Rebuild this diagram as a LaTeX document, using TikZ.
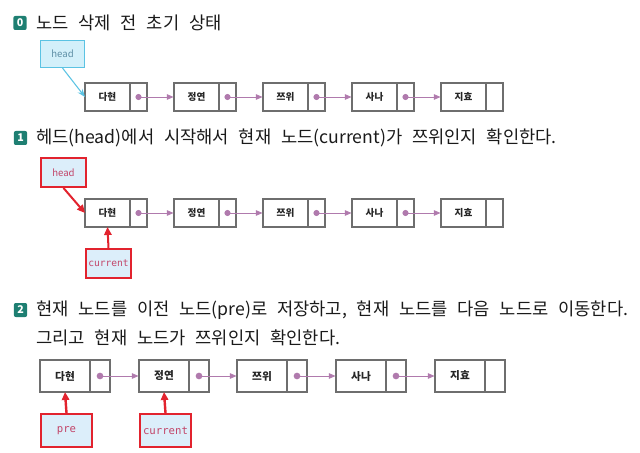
\documentclass[tikz,border=0pt]{standalone}
\usepackage{fontspec}
\setmainfont{Noto Sans CJK KR}
\newfontfamily\monof{DejaVu Sans Mono}
\usetikzlibrary{arrows.meta}
\definecolor{teal1}{HTML}{1E7F72}
\definecolor{boxgray}{HTML}{6E6E6E}
\definecolor{linkc}{HTML}{B07AAD}
\definecolor{cyanb}{HTML}{5BC3E3}
\definecolor{cyanf}{HTML}{D3F0FA}
\definecolor{redb}{HTML}{E2232E}
\definecolor{lightf}{HTML}{DCEEFA}
\definecolor{pinkt}{HTML}{C24468}
\definecolor{headt}{HTML}{5E8FA6}
\definecolor{titlec}{HTML}{1A1A1A}
\newcommand\widesp{\spaceskip=\dimexpr\fontdimen2\font+4.35pt\relax}
\tikzset{
  badge/.style={fill=teal1, rounded corners=1.5pt, text=white, font=\bfseries\fontsize{8}{8}\selectfont, minimum width=10pt, minimum height=10.5pt, inner sep=0pt},
  titletext/.style={anchor=west, inner sep=0pt, text=titlec, font=\fontsize{13.25}{15}\selectfont\widesp},
  cell/.style={draw=boxgray, line width=1.3pt, fill=white, inner sep=0pt, outer sep=0pt, text=black!85},
  datas/.style={cell, minimum width=33.75pt, minimum height=21pt, font=\bfseries\fontsize{7.2}{8}\selectfont},
  ptrs/.style={cell, minimum width=12.75pt, minimum height=21pt},
  datab/.style={cell, minimum width=37.5pt, minimum height=24pt, font=\bfseries\fontsize{8}{9}\selectfont},
  ptrb/.style={cell, minimum width=15pt, minimum height=24pt},
  linkarrow/.style={draw=linkc, line width=0.6pt, -{Triangle[length=5pt,width=4.2pt]}, shorten >=0.4pt},
  dotc/.style={fill=linkc},
  headzero/.style={draw=cyanb, fill=cyanf, line width=0.8pt, inner sep=0pt, text=headt, minimum width=33pt, minimum height=20.25pt, font=\fontsize{7.2}{8}\selectfont},
  redbox/.style={draw=redb, fill=lightf, line width=1.5pt, inner sep=0pt, text=pinkt},
  redarrow/.style={draw=redb, line width=1.5pt, -{Triangle[length=6pt,width=5.5pt]}},
}
\begin{document}
\begin{tikzpicture}[x=0.75pt,y=-0.75pt]
\useasboundingbox (0,0) rectangle (640,453);

% ---------- row 0 ----------
\node[badge] (b0) at (20,23) {0};
\node[titletext] (t0) at (36,22.5) {노드 삭제 전 초기 상태};
\foreach \i/\x/\t in {1/85/다현,2/174/정연,3/263/쯔위,4/352/사나,5/441/지효}{
  \node[datas, anchor=north west] (a\i) at (\x,83) {\t};
  \node[ptrs, anchor=west] (ap\i) at (a\i.east) {};
}
\foreach \i/\j in {1/2,2/3,3/4,4/5}{
  \fill[dotc] (ap\i.center) circle (2.3pt);
  \draw[linkarrow] (ap\i.center) -- (a\j.west);
}
\node[headzero, anchor=north west] (h0) at (40,40) {head};
\draw[draw=cyanb, line width=0.8pt, -{Stealth[length=6pt,width=4.5pt]}] (h0.south) -- (a1.west);

% ---------- row 1 ----------
\node[badge] (b1) at (20.5,138) {1};
\node[titletext] (t1) at (36,138) {헤드(head)에서 시작해서 현재 노드(current)가 쯔위인지 확인한다.};
\foreach \i/\x/\t in {1/85/다현,2/174/정연,3/263/쯔위,4/352/사나,5/441/지효}{
  \node[datas, anchor=north west] (c\i) at (\x,199) {\t};
  \node[ptrs, anchor=west] (cp\i) at (c\i.east) {};
}
\foreach \i/\j in {1/2,2/3,3/4,4/5}{
  \fill[dotc] (cp\i.center) circle (2.3pt);
  \draw[linkarrow] (cp\i.center) -- (c\j.west);
}
\node[redbox, anchor=north west, minimum width=33.75pt, minimum height=21.75pt, font=\fontsize{7.2}{8}\selectfont] (h1) at (40,157) {head};
\node[redbox, anchor=north west, minimum width=33.75pt, minimum height=21.75pt, font=\monof\fontsize{7.2}{8}\selectfont] (r1) at (85,248) {current};
\draw[redarrow] (h1.south) -- (c1.west);
\draw[redarrow] (r1.north) -- (c1.south);

% ---------- row 2 ----------
\node[badge] (b2) at (20.5,310) {2};
\node[titletext] (t2) at (36,310) {현재 노드를 이전 노드(pre)로 저장하고, 현재 노드를 다음 노드로 이동한다.};
\node[titletext] (t3) at (36,338) {그리고 현재 노드가 쯔위인지 확인한다.};
\foreach \i/\x/\t in {1/40/다현,2/139/정연,3/237/쯔위,4/336/사나,5/435/지효}{
  \node[datab, anchor=north west] (e\i) at (\x,360) {\t};
  \node[ptrb, anchor=west] (ep\i) at (e\i.east) {};
}
\foreach \i/\j in {1/2,2/3,3/4,4/5}{
  \fill[dotc] (ep\i.center) circle (2.5pt);
  \draw[linkarrow] (ep\i.center) -- (e\j.west);
}
\node[redbox, anchor=north west, minimum width=38.25pt, minimum height=24.75pt, font=\monof\fontsize{8}{9}\selectfont] (p2) at (40,413) {pre};
\node[redbox, anchor=north west, minimum width=38.25pt, minimum height=24.75pt, font=\monof\fontsize{8}{9}\selectfont] (r2) at (139,413) {current};
\draw[redarrow, line width=1.8pt] (p2.north) -- (e1.south);
\draw[redarrow, line width=1.8pt] (r2.north) -- (e2.south);
\end{tikzpicture}
\end{document}
